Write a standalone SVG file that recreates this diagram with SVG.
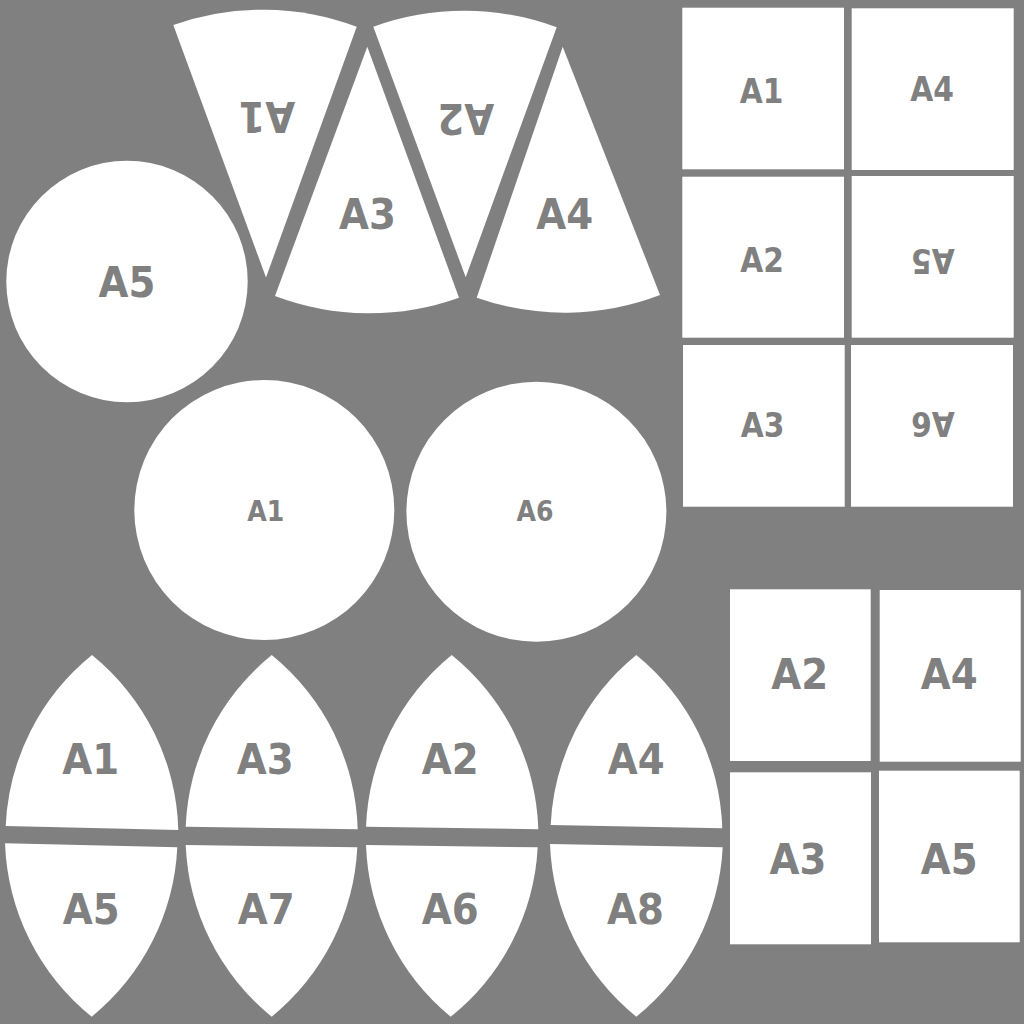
<svg xmlns="http://www.w3.org/2000/svg" width="1024" height="1024" viewBox="0 0 1024 1024">
<style>
.p{fill:#ffffff}
text{font-family:"DejaVu Sans","Liberation Sans",sans-serif;font-weight:bold;fill:#808080;text-anchor:middle}
.L{font-size:43px}
.M{font-size:33px}
.S{font-size:28px}
</style>
<rect width="1024" height="1024" fill="#808080"/>
<g id="fans">
<g id="fan-A1"><path class="p" d="M266 277.5 L173.3 25 A268 268 0 0 1 356.7 26.7 Z"/><text class="L" textLength="56.9" lengthAdjust="spacingAndGlyphs" transform="translate(266.7,101.7) rotate(180)">A1</text></g>
<g id="fan-A3"><path class="p" d="M367.3 46.7 L459 297.7 A266 266 0 0 1 275 296 Z"/><text class="L" x="367.5" y="229" textLength="56.9" lengthAdjust="spacingAndGlyphs">A3</text></g>
<g id="fan-A2"><path class="p" d="M465.7 277.3 L373.3 26.7 A267 267 0 0 1 556.7 27.3 Z"/><text class="L" textLength="56.9" lengthAdjust="spacingAndGlyphs" transform="translate(465.8,104.3) rotate(180)">A2</text></g>
<g id="fan-A4"><path class="p" d="M562.7 46.7 L660 295 A266 266 0 0 1 476.7 297.7 Z"/><text class="L" x="564.7" y="229" textLength="56.9" lengthAdjust="spacingAndGlyphs">A4</text></g>
</g>
<g id="circles">
<g id="circle-A5"><circle class="p" cx="127" cy="281.5" r="120.7"/><text class="L" x="127" y="297.3" textLength="56.9" lengthAdjust="spacingAndGlyphs">A5</text></g>
<g id="circle-A1"><circle class="p" cx="264.3" cy="510" r="130"/><text class="S" x="265.7" y="520.7" textLength="37" lengthAdjust="spacingAndGlyphs">A1</text></g>
<g id="circle-A6"><circle class="p" cx="536.4" cy="511.8" r="130"/><text class="S" x="535" y="520.7" textLength="37" lengthAdjust="spacingAndGlyphs">A6</text></g>
</g>
<g id="grid-top">
<g id="sq-A1"><rect class="p" x="682.3" y="7.7" width="161.7" height="161.6"/><text class="M" x="761.7" y="102.7" textLength="43.7" lengthAdjust="spacingAndGlyphs">A1</text></g>
<g id="sq-A4"><rect class="p" x="851.7" y="8.3" width="162" height="161.7"/><text class="M" x="932.2" y="101" textLength="43.7" lengthAdjust="spacingAndGlyphs">A4</text></g>
<g id="sq-A2"><rect class="p" x="682.3" y="176.7" width="161.7" height="161"/><text class="M" x="762" y="271.7" textLength="43.7" lengthAdjust="spacingAndGlyphs">A2</text></g>
<g id="sq-A5"><rect class="p" x="851.7" y="176" width="162" height="161.7"/><text class="M" textLength="43.7" lengthAdjust="spacingAndGlyphs" transform="translate(932.8,249.3) rotate(180)">A5</text></g>
<g id="sq-A3"><rect class="p" x="683" y="345" width="161.7" height="161.7"/><text class="M" x="762.5" y="436.7" textLength="43.7" lengthAdjust="spacingAndGlyphs">A3</text></g>
<g id="sq-A6"><rect class="p" x="851" y="345" width="162" height="161.7"/><text class="M" textLength="43.7" lengthAdjust="spacingAndGlyphs" transform="translate(932.8,411.7) rotate(180)">A6</text></g>
</g>
<g id="grid-bottom">
<g id="rb-A2"><rect class="p" x="730" y="589.3" width="140.7" height="171.7"/><text class="L" x="799.7" y="689.3" textLength="56.9" lengthAdjust="spacingAndGlyphs">A2</text></g>
<g id="rb-A4"><rect class="p" x="879.7" y="590" width="141" height="171.7"/><text class="L" x="949.3" y="689.3" textLength="56.9" lengthAdjust="spacingAndGlyphs">A4</text></g>
<g id="rb-A3"><rect class="p" x="730" y="772.3" width="141" height="172"/><text class="L" x="798" y="874" textLength="56.9" lengthAdjust="spacingAndGlyphs">A3</text></g>
<g id="rb-A5"><rect class="p" x="879" y="770.7" width="140.7" height="171.6"/><text class="L" x="949.3" y="874" textLength="56.9" lengthAdjust="spacingAndGlyphs">A5</text></g>
</g>
<g id="gores">
<g id="gore-A1"><path class="p" d="M92 655 A233 233 0 0 0 5.7 826 L178.3 830 A233 233 0 0 0 92 655 Z"/><text class="L" x="90.8" y="774" textLength="56.9" lengthAdjust="spacingAndGlyphs">A1</text></g>
<g id="gore-A3"><path class="p" d="M271.7 655 A233 233 0 0 0 185.7 826.7 L357.7 829.3 A233 233 0 0 0 271.7 655 Z"/><text class="L" x="265.3" y="774" textLength="56.9" lengthAdjust="spacingAndGlyphs">A3</text></g>
<g id="gore-A2"><path class="p" d="M451.7 655 A233 233 0 0 0 366 826.7 L538.3 829.3 A233 233 0 0 0 451.7 655 Z"/><text class="L" x="450.3" y="774" textLength="56.9" lengthAdjust="spacingAndGlyphs">A2</text></g>
<g id="gore-A4"><path class="p" d="M636.3 655 A233 233 0 0 0 550.7 825 L722.3 828.3 A233 233 0 0 0 636.3 655 Z"/><text class="L" x="636.2" y="774" textLength="56.9" lengthAdjust="spacingAndGlyphs">A4</text></g>
<g id="gore-A5"><path class="p" d="M5 843.3 L177.3 847.3 A233 233 0 0 1 91.7 1016.7 A233 233 0 0 1 5 843.3 Z"/><text class="L" x="91.2" y="924" textLength="56.9" lengthAdjust="spacingAndGlyphs">A5</text></g>
<g id="gore-A7"><path class="p" d="M185.7 845 L357.3 847.3 A233 233 0 0 1 271.7 1016.7 A233 233 0 0 1 185.7 845 Z"/><text class="L" x="266.3" y="924" textLength="56.9" lengthAdjust="spacingAndGlyphs">A7</text></g>
<g id="gore-A6"><path class="p" d="M366 845 L537.7 847.3 A233 233 0 0 1 450.7 1016.7 A233 233 0 0 1 366 845 Z"/><text class="L" x="450.3" y="924" textLength="56.9" lengthAdjust="spacingAndGlyphs">A6</text></g>
<g id="gore-A8"><path class="p" d="M550 844 L722.7 847.3 A233 233 0 0 1 636.3 1016.7 A233 233 0 0 1 550 844 Z"/><text class="L" x="635.5" y="924" textLength="56.9" lengthAdjust="spacingAndGlyphs">A8</text></g>
</g>
<g id="connectors"/>
</svg>
